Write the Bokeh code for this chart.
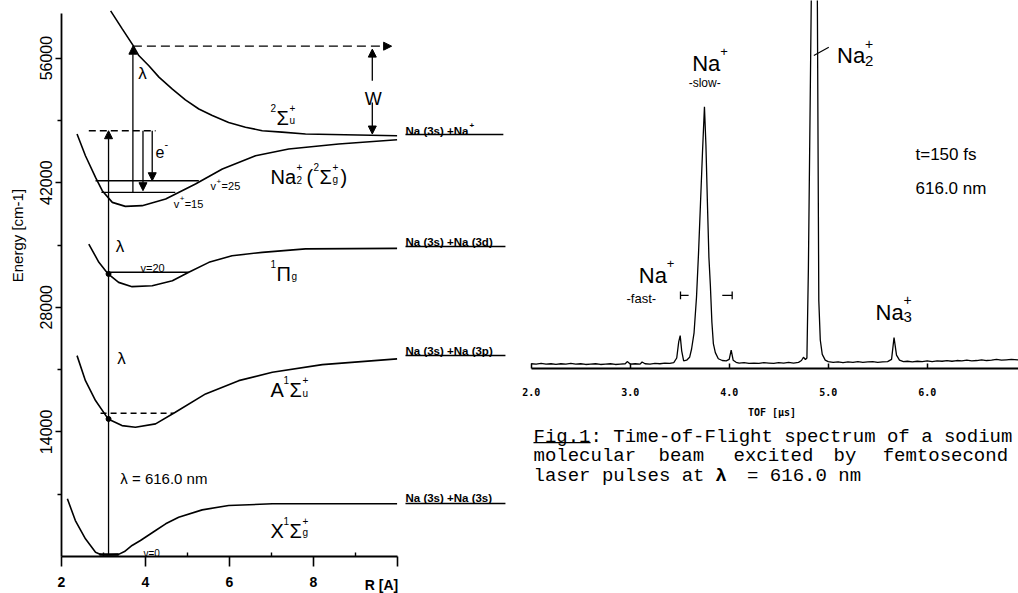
import math
from bokeh.plotting import figure
from bokeh.layouts import row
from bokeh.models import Range1d, FixedTicker, Arrow, NormalHead, PrintfTickFormatter
from bokeh.core.properties import value
from bokeh.embed import file_html
from bokeh.resources import INLINE

# ---------------- potential curves (R in Angstrom, E in cm-1) ----------------
R_X = [2.14, 2.33, 2.57, 2.81, 2.93, 3.08, 3.36, 3.50, 3.68, 3.88, 4.24, 4.48, 4.79, 5.35, 5.98, 7.02, 8.50, 9.99]
E_X = [6480, 4040, 1990, 480, 230, 160, 240, 560, 1240, 1800, 2920, 3670, 4410, 5240, 5730, 5920, 5930, 5930]

R_A = [2.37, 2.57, 2.81, 3.11, 3.44, 3.76, 4.24, 4.71, 5.43, 6.22, 7.02, 8.21, 9.99]
E_A = [22570, 19760, 17520, 15460, 14710, 14520, 14900, 16210, 18270, 19760, 20700, 21560, 22200]

R_PI = [2.65, 2.89, 3.11, 3.36, 3.68, 4.16, 4.64, 5.03, 5.51, 6.06, 6.78, 7.81, 9.99]
E_PI = [35110, 33050, 31750, 30800, 30320, 30430, 30990, 31930, 33050, 33800, 34170, 34560, 34620]

R_ION = [2.37, 2.57, 2.81, 2.97, 3.21, 3.52, 3.92, 4.48, 5.19, 5.83, 6.62, 7.41, 8.60, 9.99]
E_ION = [47470, 45030, 42600, 41100, 39790, 39340, 39420, 40170, 41860, 43540, 45030, 45780, 46340, 46830]

R_SU = [3.17, 3.45, 3.70, 3.84, 4.08, 4.32, 4.64, 4.95, 5.27, 5.59, 5.98, 6.38, 6.78, 7.25, 7.81, 9.99]
E_SU = [61300, 59260, 57460, 56290, 55140, 53860, 52520, 51310, 50280, 49550, 48770, 48240, 47840, 47680, 47470, 47280]

# vibrational / auxiliary levels
LEV_R0 = [2.90, 3.11, 2.93, 2.81, 2.95]
LEV_R1 = [3.36, 5.03, 4.67, 5.27, 4.71]
LEV_E = [220, 31930, 16090, 42220, 40910]
LEV_W = [2.6, 1.4, 1.4, 1.4, 1.4]
LEV_DASH = ["solid", "solid", "6 4", "solid", "solid"]

TOP_DASH_R = [2.65, 4.24]
TOP_DASH_E = 47840

# asymptote labels
ASYM_TEXT = ["Na (3s) +Na", "Na (3s) +Na (3d)", "Na (3s) +Na (3p)", "Na (3s) +Na (3s)"]
ASYM_BASE = [47865, 35393, 23146, 6517]
ASYM_LINE = [47416, 34832, 22584, 5955]
ASYM_R1 = [12.52, 12.57, 12.57, 12.57]

# ---------------- TOF spectrum ----------------
TOF = [2.00, 2.05, 2.10, 2.15, 2.20, 2.25, 2.30, 2.35, 2.40, 2.45, 2.50, 2.55, 2.60, 2.65,
       2.70, 2.75, 2.80, 2.85, 2.90, 2.95, 2.97, 3.00, 3.05, 3.10, 3.12, 3.15, 3.20, 3.25,
       3.30, 3.35, 3.40, 3.44, 3.47, 3.49, 3.505, 3.52, 3.54, 3.57, 3.60, 3.62, 3.645, 3.67,
       3.69, 3.71, 3.73, 3.75, 3.765, 3.78, 3.795, 3.81, 3.825, 3.84, 3.86, 3.89, 3.93, 3.97,
       4.00, 4.02, 4.04, 4.07, 4.10, 4.15, 4.20, 4.25, 4.30, 4.35, 4.40, 4.45, 4.50, 4.55,
       4.60, 4.65, 4.70, 4.73, 4.75, 4.77, 4.785, 4.80, 4.83, 4.86, 4.89, 4.905, 4.92, 4.94,
       4.97, 5.00, 5.05, 5.10, 5.15, 5.20, 5.25, 5.30, 5.35, 5.40, 5.45, 5.50, 5.55, 5.60,
       5.64, 5.665, 5.69, 5.72, 5.76, 5.80, 5.85, 5.90, 5.95, 6.00, 6.05, 6.10, 6.15, 6.20,
       6.25, 6.30, 6.35, 6.40, 6.45, 6.50, 6.55, 6.60, 6.65, 6.70, 6.75, 6.80, 6.85, 6.92]
SIG = [1.4, 1.3, 1.5, 1.3, 1.4, 1.2, 1.4, 1.3, 1.5, 1.3, 1.4, 1.2, 1.3, 1.4,
       1.2, 1.3, 1.4, 1.2, 1.3, 1.4, 2.0, 1.3, 1.4, 1.3, 1.9, 1.4, 1.3, 1.5,
       1.4, 1.6, 1.5, 1.7, 3.0, 7.5, 9.2, 5.0, 2.2, 2.4, 3.2, 5.5, 10.0, 20.0,
       32.0, 46.0, 60.0, 72.8, 62.0, 46.0, 31.0, 23.0, 13.0, 7.0, 4.5, 2.8, 2.3, 2.2,
       2.6, 5.2, 2.4, 1.8, 1.6, 1.7, 1.5, 1.6, 1.5, 1.7, 1.6, 1.5, 1.7, 1.6,
       1.8, 1.6, 1.8, 2.3, 3.2, 2.6, 3.0, 28.0, 105.0, 160.0, 105.0, 19.0, 8.0, 4.0,
       2.4, 2.0, 1.8, 1.9, 1.7, 1.9, 1.8, 2.0, 1.8, 1.9, 2.0, 1.8, 1.9, 2.0,
       2.6, 8.7, 3.8, 2.4, 2.0, 2.1, 1.9, 2.1, 2.0, 2.2, 2.0, 2.2, 2.1, 2.3,
       2.1, 2.3, 2.2, 2.4, 2.2, 2.3, 2.5, 2.3, 2.4, 2.6, 2.4, 2.5, 2.6, 2.5]

TOF_TICKS = [2, 3, 4, 5, 6]
E_TICKS = [14000, 28000, 42000, 56000]
E_MINOR = [7000, 21000, 35000, 49000]
R_TICKS = [2, 4, 6, 8, 10]
R_MINOR = [3, 5, 7, 9]

CAPTION_1 = "Fig.1: Time-of-Flight spectrum of a sodium"
CAPTION_2 = ["molecular", "beam", "excited", "by", "femtosecond"]
CAPTION_2_X = [2.023, 3.286, 4.044, 5.054, 5.55]
CAPTION_3 = ["laser pulses at", "λ", "= 616.0 nm"]
CAPTION_3_X = [2.023, 3.86, 4.18]
CAPTION_Y = [-18.9, -24.3, -29.7]

SANS = "Liberation Sans"
MONO = "Liberation Mono"
BLK = "black"
H = 593


def base_fig(w, xr, yr):
    f = figure(width=w, height=H, x_range=xr, y_range=yr, output_backend="svg",
               toolbar_location=None, min_border=0)
    f.outline_line_color = None
    f.grid.visible = False
    f.background_fill_color = "white"
    f.border_fill_color = "white"
    return f


def txt(fig, x, y, parts, font=SANS, align="left", style="normal", angle=0.0, baseline="alphabetic"):
    for t, dx, dy, sz in parts:
        fig.text(x=[x], y=[y], text=[t], x_offset=dx, y_offset=dy, text_font=value(font),
                 text_font_size=f"{sz}px", text_align=align, text_baseline=baseline,
                 text_color=BLK, text_font_style=style, angle=angle)


def arrow(fig, x0, y0, x1, y1, dash="solid", w=1.3):
    fig.add_layout(Arrow(end=NormalHead(size=8, fill_color=BLK, line_color=BLK, line_width=1),
                         x_start=x0, y_start=y0, x_end=x1, y_end=y1,
                         line_color=BLK, line_width=w, line_dash=dash))


# ================= left figure: potential curves =================
EPX = 112.36  # cm-1 per pixel
p = base_fig(515, Range1d(2 - 61 / 42, 2 + (515 - 61) / 42), Range1d(-(H - 556) * EPX, 556 * EPX))

for ax in (p.xaxis[0], p.yaxis[0]):
    ax.axis_line_width = 1.8
    ax.major_tick_line_width = 1.6
    ax.minor_tick_line_width = 1.4
    ax.axis_line_color = BLK
    ax.major_tick_line_color = BLK
    ax.minor_tick_line_color = BLK
    ax.major_label_text_color = BLK
    ax.major_label_text_font = SANS

p.xaxis.fixed_location = 0
p.xaxis.ticker = FixedTicker(ticks=R_TICKS, minor_ticks=R_MINOR)
p.xaxis.bounds = (2, 10)
p.xaxis.major_tick_out = 10
p.xaxis.major_tick_in = 0
p.xaxis.minor_tick_in = 4
p.xaxis.minor_tick_out = 0
p.xaxis.major_label_standoff = 10
p.xaxis.major_label_overrides = {10: ""}
p.xaxis.major_label_text_font_size = "14px"
p.xaxis.major_label_text_font_style = "bold"

p.yaxis.fixed_location = 2
p.yaxis.ticker = FixedTicker(ticks=E_TICKS, minor_ticks=E_MINOR)
p.yaxis.bounds = (0, 61000)
p.yaxis.major_tick_out = 6
p.yaxis.major_tick_in = 0
p.yaxis.minor_tick_out = 4
p.yaxis.minor_tick_in = 0
p.yaxis.major_label_orientation = "vertical"
p.yaxis.major_label_standoff = 3
p.yaxis.major_label_text_font_size = "16px"

LW = 1.6
for rr, ee in ((R_X, E_X), (R_A, E_A), (R_PI, E_PI), (R_ION, E_ION), (R_SU, E_SU)):
    p.line(rr, ee, line_color=BLK, line_width=LW)

for r0, r1, e, w, d in zip(LEV_R0, LEV_R1, LEV_E, LEV_W, LEV_DASH):
    p.line([r0, r1], [e, e], line_color=BLK, line_width=w, line_dash=d)
p.line(TOP_DASH_R, [TOP_DASH_E, TOP_DASH_E], line_color=BLK, line_width=1.4, line_dash="7 4")

p.scatter([3.12, 3.12], [15460, 31750], size=5, color=BLK)

arrow(p, 3.12, 220, 3.12, 47840)
arrow(p, 3.70, 40910, 3.70, 57340)
arrow(p, 3.70, 57340, 9.86, 57340, dash="9 5")
arrow(p, 9.40, 53450, 9.40, 57010)
arrow(p, 9.40, 51020, 9.40, 47470)
arrow(p, 3.94, 47840, 3.94, 41100)
arrow(p, 4.16, 47840, 4.16, 42220)

BIG, SM = 20, 10
txt(p, 6.976, 49326, [("2", 0, -10, SM), ("Σ", 6, 0, BIG), ("+", 19, -10, SM), ("u", 19, 3, SM)])
txt(p, 6.976, 42618, [("Na", 0, 0, BIG), ("+", 26, -10, SM), ("2", 26, 3, SM), ("(", 36, 0, BIG),
                      ("2", 43, -10, SM), ("Σ", 49, 0, BIG), ("+", 62, -10, SM), ("g", 62, 2, SM),
                      (")", 70, 0, BIG)])
txt(p, 6.976, 31686, [("1", 0, -10, SM), ("Π", 6, 0, BIG), ("g", 21, 2, SM)])
txt(p, 6.976, 18652, [("A", 0, 0, BIG), ("1", 13, -10, SM), ("Σ", 19, 0, BIG), ("+", 32, -10, SM), ("u", 32, 3, SM)])
txt(p, 6.976, 2921, [("X", 0, 0, BIG), ("1", 13, -10, SM), ("Σ", 19, 0, BIG), ("+", 32, -10, SM), ("g", 32, 2, SM)])

txt(p, 3.95, 340, [("v=0", 0, 0, 10)])
txt(p, 3.88, 32360, [("v=20", 0, 0, 11)])
txt(p, 5.55, 41610, [("v", 0, 0, 11), ("+", 6, -5, 8), ("=25", 11, 0, 11)])
txt(p, 4.67, 39630, [("v", 0, 0, 11), ("+", 6, -5, 8), ("=15", 11, 0, 11)])
txt(p, 4.24, 45430, [("e", 0, 0, 16), ("-", 9, -8, 11)])
txt(p, 3.83, 54240, [("λ", 0, 0, 17)])
txt(p, 3.29, 34830, [("λ", 0, 0, 17)])
txt(p, 3.33, 22250, [("λ", 0, 0, 17)])
txt(p, 3.40, 8760, [("λ = 616.0 nm", 0, 0, 15)])
txt(p, 9.42, 51460, [("W", 0, 0, 18)], align="center")

for t, eb, el, r1 in zip(ASYM_TEXT, ASYM_BASE, ASYM_LINE, ASYM_R1):
    txt(p, 10.19, eb, [(t, 0, 0, 11.5)], style="bold")
    p.line([10.19, r1], [el, el], line_color=BLK, line_width=1.4)
txt(p, 10.19, ASYM_BASE[0], [("+", 64, -5, 8)], style="bold")

txt(p, 0.964, 36292, [("Energy  [cm-1]", 0, 0, 15)], align="center", angle=math.pi / 2, baseline="middle")
txt(p, 9.62, -3258, [("R [A]", 0, 0, 14)], align="center", style="bold", baseline="middle")

# ================= right figure: TOF spectrum =================
IPX = 3.6  # pixels per intensity unit
q = base_fig(503, Range1d(1.8414, 1.8414 + 503 / 99), Range1d(-(H - 368.3) / IPX, 368.3 / IPX))
q.yaxis.visible = False

xa = q.xaxis[0]
xa.fixed_location = 0
xa.ticker = FixedTicker(ticks=TOF_TICKS, minor_ticks=[])
xa.formatter = PrintfTickFormatter(format="%.1f")
xa.bounds = (2.0, 6.92)
xa.axis_line_width = 1.8
xa.axis_line_color = BLK
xa.major_tick_in = 5
xa.major_tick_out = 0
xa.major_tick_line_width = 1.5
xa.major_tick_line_color = BLK
xa.minor_tick_line_color = None
xa.major_label_standoff = 19
xa.major_label_text_font = "DejaVu Sans Mono"
xa.major_label_text_font_style = "bold"
xa.major_label_text_font_size = "10px"
xa.major_label_text_color = BLK
xa.axis_label = "TOF  [μs]"
xa.axis_label_text_font = "DejaVu Sans Mono"
xa.axis_label_text_font_style = "bold"
xa.axis_label_text_font_size = "10px"
xa.axis_label_standoff = 8
xa.axis_label_text_color = BLK

q.line(TOF, SIG, line_color=BLK, line_width=1.3)

txt(q, 3.626, 84.8, [("Na", 0, 0, 22), ("+", 28, -12, 13)])
txt(q, 3.752, 79.5, [("-slow-", 0, 0, 12)], align="center")
txt(q, 5.09, 87.0, [("Na", 0, 0, 22), ("+", 28, -12, 14), ("2", 28, 5, 15)])
q.line([4.855, 5.006], [87.0, 89.3], line_color=BLK, line_width=1.2)
txt(q, 5.882, 59.5, [("t=150 fs", 0, 0, 17)])
txt(q, 5.882, 50.1, [("616.0 nm", 0, 0, 17)])
txt(q, 3.087, 25.9, [("Na", 0, 0, 22), ("+", 28, -12, 13)])
txt(q, 2.963, 19.5, [("-fast-", 0, 0, 13)])
txt(q, 5.478, 15.7, [("Na", 0, 0, 22), ("+", 28, -12, 14), ("3", 28, 5, 15)])

BR_Y = 20.4
q.line([3.508, 3.508], [BR_Y - 1.1, BR_Y + 1.1], line_color=BLK, line_width=1.3)
q.line([3.508, 3.59], [BR_Y, BR_Y], line_color=BLK, line_width=1.3)
q.line([3.93, 4.03], [BR_Y, BR_Y], line_color=BLK, line_width=1.3)
q.line([4.03, 4.03], [BR_Y - 1.1, BR_Y + 1.1], line_color=BLK, line_width=1.3)

# caption (below the TOF axis)
CF = 19
txt(q, 2.023, CAPTION_Y[0], [(CAPTION_1, 0, 0, CF)], font=MONO)
for word, xw in zip(CAPTION_2, CAPTION_2_X):
    txt(q, xw, CAPTION_Y[1], [(word, 0, 0, CF)], font=MONO)
txt(q, CAPTION_3_X[0], CAPTION_Y[2], [(CAPTION_3[0], 0, 0, CF)], font=MONO)
txt(q, CAPTION_3_X[1], CAPTION_Y[2], [(CAPTION_3[1], 0, 0, CF)], font=MONO, style="bold")
txt(q, CAPTION_3_X[2], CAPTION_Y[2], [(CAPTION_3[2], 0, 0, CF)], font=MONO)
q.line([2.023, 2.60], [CAPTION_Y[0] - 1.6, CAPTION_Y[0] - 1.6], line_color=BLK, line_width=1.3)

layout = row(p, q)
open("out.html", "w").write(file_html(layout, INLINE))
